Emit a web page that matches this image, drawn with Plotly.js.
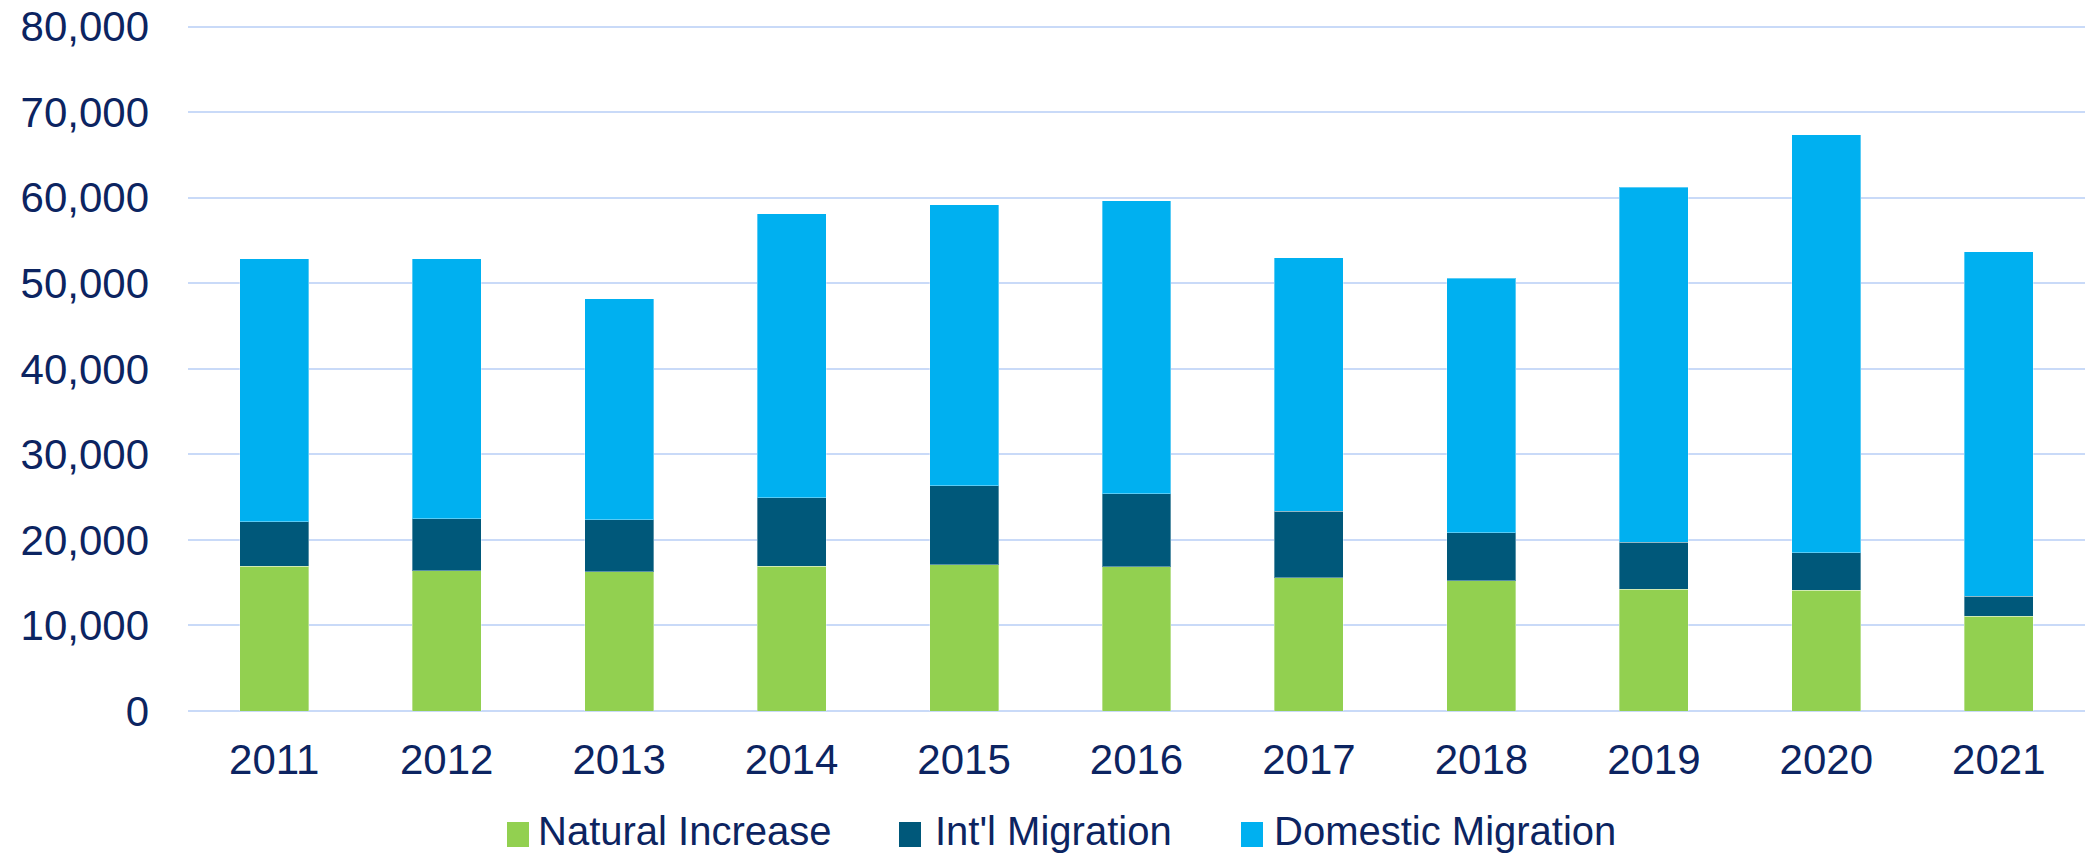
<!DOCTYPE html>
<html>
<head>
<meta charset="utf-8">
<script src="https://cdn.plot.ly/plotly-3.0.1.min.js"></script>
<style>html,body{margin:0;padding:0;background:#fff;}#chart{width:2085px;height:855px;}</style>
</head>
<body>
<div id="chart"></div>
<script>
const years = ['2011','2012','2013','2014','2015','2016','2017','2018','2019','2020','2021'];
const naturalIncrease   = [16900, 16400, 16300, 16900, 17100, 16850, 15550, 15200, 14250, 14100, 11100];
const intlMigration     = [5240, 6090, 6050, 8060, 9240, 8530, 7780, 5640, 5450, 4410, 2300];
const domesticMigration = [30720, 30400, 25850, 33150, 32860, 34280, 29640, 29770, 41530, 48850, 40280];
const seriesNames  = ['Natural Increase', "Int'l Migration", 'Domestic Migration'];
const seriesColors = ['#92D050', '#00587A', '#00B0F0'];
const yTickVals = [0, 10000, 20000, 30000, 40000, 50000, 60000, 70000, 80000];

const textColor = '#0C2461';
const W = 2085, H = 855;
const M = {l: 188, r: 0, t: 25, b: 144};
const plotW = W - M.l - M.r, plotH = H - M.t - M.b;
const px2x = p => (p - M.l) / plotW;
const py2y = p => (H - M.b - p) / plotH;

const seriesData = [naturalIncrease, intlMigration, domesticMigration];
const traces = seriesData.map((vals, i) => ({
  type: 'bar',
  name: seriesNames[i],
  x: years,
  y: vals,
  marker: {color: seriesColors[i], line: {color: 'rgba(255,255,255,0.35)', width: 1}},
  showlegend: false,
  hoverinfo: 'x+y+name'
}));

// custom legend (larger swatches like the reference)
const legendSquareX = [507, 899, 1241];
const legendTextX = [537, 934, 1273];
const legendY = 834;
const shapes = [], annotations = [];
seriesNames.forEach((n, i) => {
  shapes.push({type: 'rect', xref: 'paper', yref: 'paper',
    x0: px2x(legendSquareX[i]), x1: px2x(legendSquareX[i] + 22),
    y0: py2y(legendY + 13), y1: py2y(legendY - 12),
    fillcolor: seriesColors[i], line: {width: 0}});
  annotations.push({xref: 'paper', yref: 'paper', x: px2x(legendTextX[i]), y: py2y(legendY - 3),
    xanchor: 'left', yanchor: 'middle', showarrow: false, text: n, borderpad: 0,
    font: {family: 'Liberation Sans, Arial, sans-serif', size: 40, color: textColor}});
});

const layout = {
  width: W, height: H,
  margin: M,
  paper_bgcolor: '#ffffff', plot_bgcolor: '#ffffff',
  barmode: 'stack',
  bargap: 0.6,
  showlegend: false,
  font: {family: 'Liberation Sans, Arial, sans-serif', color: textColor},
  xaxis: {
    type: 'category',
    tickfont: {family: 'Liberation Sans, Arial, sans-serif', size: 42, color: textColor},
    showgrid: false, zeroline: false, showline: false, ticks: '',
    ticklabelstandoff: 20
  },
  yaxis: {
    range: [0, 80200],
    tickvals: yTickVals,
    tickformat: ',d',
    tickfont: {family: 'Liberation Sans, Arial, sans-serif', size: 42, color: textColor},
    showgrid: true, gridcolor: '#C9DAF8', gridwidth: 2,
    zeroline: true, zerolinecolor: '#C9DAF8', zerolinewidth: 2,
    showline: false, ticks: '',
    ticklabelstandoff: 38
  },
  shapes: shapes,
  annotations: annotations
};

Plotly.newPlot('chart', traces, layout, {displayModeBar: false, staticPlot: true});
</script>
</body>
</html>
